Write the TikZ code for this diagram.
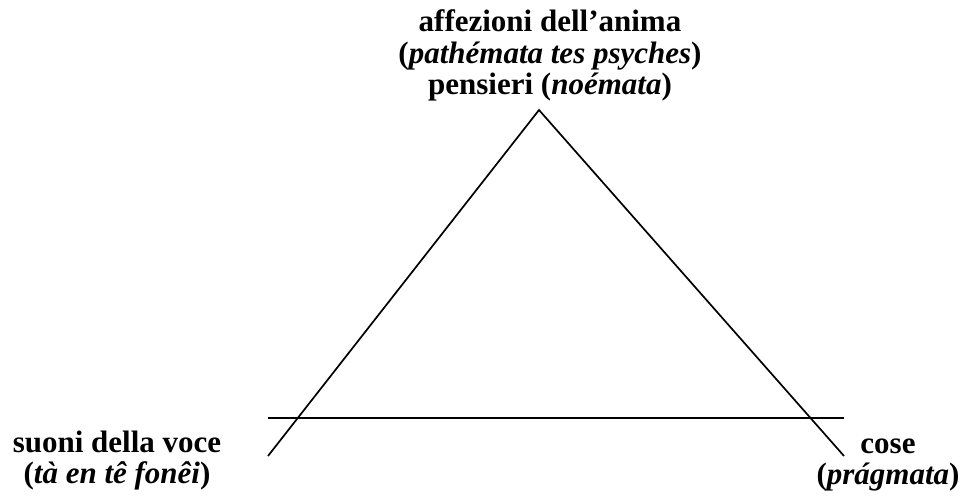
\documentclass[tikz,border=0pt]{standalone}
\usepackage{fontspec}
\setmainfont{Liberation Serif}
\begin{document}
\begin{tikzpicture}[x=1pt,y=-1pt,
  lbl/.style={inner sep=0pt, anchor=base, font=\fontsize{31}{31.5}\selectfont\bfseries},
  edge/.style={line width=1.7pt}]
\useasboundingbox (0,0) rectangle (968,497);
\coordinate (apex) at (539,110);
\coordinate (left) at (268,456);
\coordinate (right) at (844,456);
\coordinate (hl) at (268,418);
\coordinate (hr) at (844,418);
\draw[edge] (left) -- (apex) -- (right);
\draw[edge] (hl) -- (hr);
\node[lbl] (mind) at (550,32) {\begin{tabular}[t]{@{}c@{}}affezioni dell’anima\\(\textit{pathémata tes psyches})\\pensieri (\textit{noémata})\end{tabular}};
\node[lbl] (voice) at (117,452) {\begin{tabular}[t]{@{}c@{}}suoni della voce\\(\textit{tà en tê fonêi})\end{tabular}};
\node[lbl] (things) at (888,453) {\begin{tabular}[t]{@{}c@{}}cose\\(\textit{prágmata})\end{tabular}};
\end{tikzpicture}
\end{document}
